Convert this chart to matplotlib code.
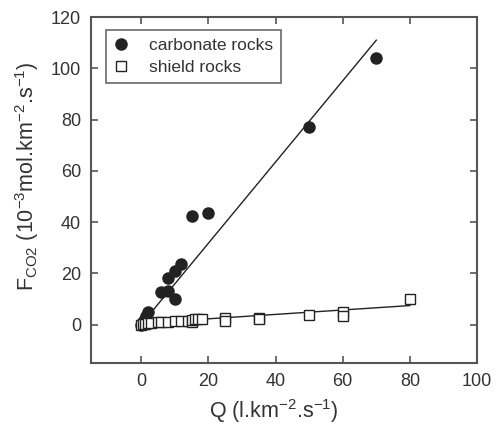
import matplotlib
matplotlib.use("Agg")
import matplotlib.pyplot as plt
import numpy as np

plt.rcParams['font.family'] = ['Liberation Sans', 'DejaVu Sans']
plt.rcParams['mathtext.fontset'] = 'custom'
plt.rcParams['mathtext.rm'] = 'Liberation Sans'
plt.rcParams['mathtext.it'] = 'Liberation Sans'
plt.rcParams['mathtext.bf'] = 'Liberation Sans'

# Data
carb_q = [0, 0.2, 0.5, 1, 1.5, 2, 6, 8, 8, 10, 10, 12, 15, 20, 50, 70]
carb_f = [0, 0.5, 1, 2, 3.5, 5, 12.5, 13, 18, 21, 10, 23.5, 42.5, 43.5, 77, 104]
shield_q = [0, 0.5, 1, 2, 3, 5, 6, 8, 10, 12, 14, 15, 15, 16, 17, 18, 25, 25, 35, 35, 50, 60, 60, 80]
shield_f = [0, 0.2, 0.3, 0.4, 0.5, 0.8, 0.8, 1.0, 1.2, 1.5, 1.5, 1.0, 1.6, 2.0, 2.0, 2.2, 2.5, 1.3, 2.5, 2.0, 3.8, 5.0, 3.4, 9.8]
carb_fit_q = [0, 70]
carb_fit_f = [0, 111]
shield_fit_q = [0, 80]
shield_fit_f = [0.5, 7.4]

xticks = [0, 20, 40, 60, 80, 100]
yticks = [0, 20, 40, 60, 80, 100, 120]

fig = plt.figure(figsize=(4.99, 4.28), dpi=100)
ax = fig.add_axes([0.182, 0.152, 0.774, 0.808])

dark = '#222222'
ax.plot(carb_fit_q, carb_fit_f, color=dark, lw=1.0, zorder=2)
ax.plot(shield_fit_q, shield_fit_f, color=dark, lw=1.0, zorder=2)
ax.plot(carb_q, carb_f, 'o', color=dark, ms=8, mec=dark, label='carbonate rocks', zorder=3)
ax.plot(shield_q, shield_f, 's', mfc='white', mec=dark, mew=1.0, ms=7, label='shield rocks', zorder=3)

ax.set_xlim(-15, 100)
ax.set_ylim(-15, 120)
ax.set_xticks(xticks)
ax.set_yticks(yticks)
ax.tick_params(direction='in', top=True, right=True, length=5, width=1.2,
               labelsize=13, colors='#555555', labelcolor='#333333', pad=7)
for s in ax.spines.values():
    s.set_color('#555555')
    s.set_linewidth(1.5)

ax.set_xlabel(r'Q (l.km$^{-2}$.s$^{-1}$)', fontsize=15.5, color='#333333')
ax.set_ylabel(r'F$_{\mathrm{CO2}}$ (10$^{-3}$mol.km$^{-2}$.s$^{-1}$)', fontsize=15.5, color='#333333')
ax.xaxis.set_label_coords(0.474, -0.1)
ax.yaxis.set_label_coords(-0.128, 0.539)

leg = ax.legend(loc='upper left', fontsize=12.5, frameon=True, fancybox=False,
                edgecolor='#444444', handlelength=0.8, handletextpad=1.25,
                borderpad=0.45, labelspacing=0.38,
                bbox_to_anchor=(15 / 386, 1 - 13 / 346), borderaxespad=0)
leg.get_frame().set_linewidth(1.2)
for t in leg.get_texts():
    t.set_color('#333333')

fig.savefig('out.png', dpi=100)
